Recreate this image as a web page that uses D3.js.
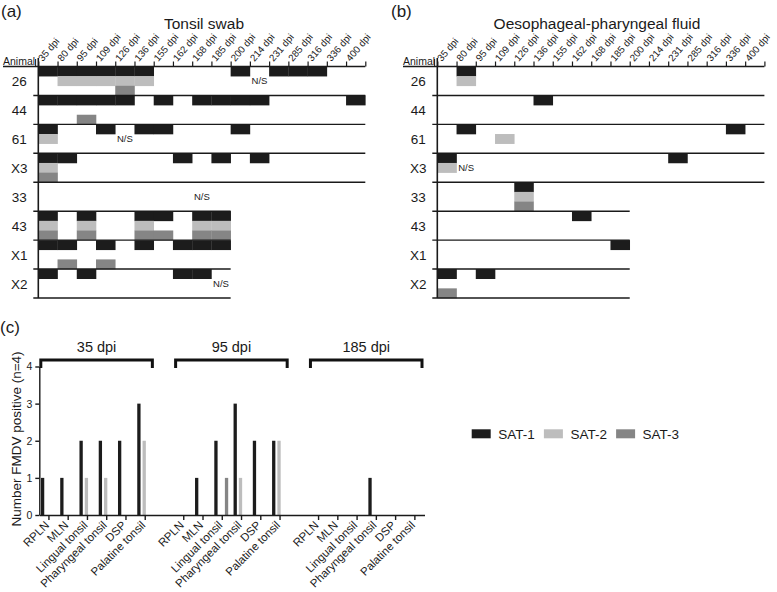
<!DOCTYPE html>
<html>
<head>
<meta charset="utf-8">
<script src="https://cdn.jsdelivr.net/npm/d3@7"></script>
<style>
body{margin:0;background:#fff;}
svg text{font-family:"Liberation Sans",Arial,sans-serif;fill:#1a1a1a;}
</style>
</head>
<body>
<script>
// sampling days and animals (panels a, b)
var dpiCols = [35,80,95,109,126,136,155,162,168,185,200,214,231,285,316,336,400];
var animals = ["26","44","61","X3","33","43","X1","X2"];
var lastDpi = [400,400,400,400,185,185,185,185];
var serotypes = ["SAT-1","SAT-2","SAT-3"];
var satColors = ["#1c1c1c","#bdbdbd","#858585"];

// (a) tonsil swab: positive days per animal
var swabSAT1 = [[35,80,95,109,126,136,200,231,285,316],[35,80,95,109,126,155,168,185,200,214,400],[35,109,136,155,200],[35,80,162,185,214],[],[35,95,136,155,168,185],[35,80,109,136,162,168,185],[35,95,162,168]];
var swabSAT2 = [[80,95,109,126,136],[],[35],[35],[],[35,95,136,168,185],[],[]];
var swabSAT3 = [[126],[95],[],[35],[],[35,95,136,155,168,185],[80,109],[]];
var swabNS = [["26",214],["61",126],["33",168],["X2",185]];

// (b) oesophageal-pharyngeal fluid
var fluidSAT1 = [[80],[136],[80,336],[35,231],[126],[162],[185],[35,95]];
var fluidSAT2 = [[80],[],[109],[35],[126],[],[],[]];
var fluidSAT3 = [[],[],[],[],[126],[],[],[35]];
var fluidNS = [["X3",80]];

// (c) tissues at necropsy
var tissues = ["RPLN","MLN","Lingual tonsil","Pharyngeal tonsil","DSP","Palatine tonsil"];
var timepoints = ["35 dpi","95 dpi","185 dpi"];
var tissueSAT1 = [[1,1,2,2,2,3],[0,1,2,3,2,2],[0,0,0,1,0,0]];
var tissueSAT2 = [[0,0,1,1,0,2],[0,0,0,1,0,2],[0,0,0,0,0,0]];
var tissueSAT3 = [[0,0,0,0,0,0],[0,0,1,0,0,0],[0,0,0,0,0,0]];
var yTicks = [0,1,2,3,4];

var svg = d3.select('body').append('svg').attr('width',777).attr('height',592);

function drawGrid(letter, letterX, title, titleX, animalX, x0, x1, sat1, sat2, sat3, ns){
  var g = svg.append('g');
  var x = d3.scaleBand().domain(dpiCols).range([x0,x1]);
  var xl = d3.scaleLinear().domain([0,dpiCols.length]).range([x0,x1]);
  var y = d3.scaleBand().domain(animals).range([66.5,298]);
  var ys = d3.scaleBand().domain(serotypes).range([0,y.bandwidth()]);

  g.append('text').attr('x',letterX).attr('y',17).attr('font-size','17px').text(letter);
  g.append('text').attr('x',titleX).attr('y',29).attr('font-size','15.5px').attr('text-anchor','middle').text(title);
  g.append('text').attr('x',animalX).attr('y',65).attr('font-size','10.5px').text('Animal');

  var ax = g.append('g').attr('transform','translate(0,66.5)')
    .call(d3.axisTop(xl).ticks(dpiCols.length).tickFormat('').tickSize(5).tickSizeOuter(0));
  ax.select('.domain').remove();
  ax.selectAll('line').attr('stroke','#1a1a1a').attr('stroke-width',1.2);

  g.selectAll('.col').data(dpiCols).enter().append('text')
    .attr('transform',function(d){return 'translate('+(x(d)+4.5)+',62) rotate(-50)';})
    .attr('font-size','9.8px').text(function(d){return d+' dpi';});

  [sat1,sat2,sat3].forEach(function(series,si){
    animals.forEach(function(a,ai){
      g.selectAll(null).data(series[ai]).enter().append('rect')
        .attr('x',function(d){return x(d);})
        .attr('y',y(a)+ys(serotypes[si]))
        .attr('width',x.bandwidth()+0.3)
        .attr('height',ys.bandwidth()+0.3)
        .attr('fill',satColors[si]);
    });
  });

  g.selectAll('.ns').data(ns).enter().append('text')
    .attr('x',function(d){return x(d[1])+x.bandwidth()/2;})
    .attr('y',function(d){return y(d[0])+ys('SAT-2')+ys.bandwidth()/2+3.5;})
    .attr('font-size','9.5px').attr('text-anchor','middle').text('N/S');

  g.selectAll('.rl').data(animals).enter().append('text')
    .attr('x',x0-19).attr('y',function(d){return y(d)+y.bandwidth()/2+5;})
    .attr('font-size','13.5px').attr('text-anchor','middle').text(function(d){return d;});

  // header line and row separators
  g.append('line').attr('x1',animalX).attr('x2',x1).attr('y1',66.5).attr('y2',66.5)
    .attr('stroke','#1a1a1a').attr('stroke-width',1.4);
  g.selectAll('.sep').data(animals).enter().append('line')
    .attr('x1',x0-5).attr('x2',function(d,i){return x(lastDpi[i])+x.bandwidth();})
    .attr('y1',function(d){return y(d)+y.bandwidth();})
    .attr('y2',function(d){return y(d)+y.bandwidth();})
    .attr('stroke','#1a1a1a').attr('stroke-width',1.4);
  g.append('line').attr('x1',x0).attr('x2',x0).attr('y1',58).attr('y2',298)
    .attr('stroke','#1a1a1a').attr('stroke-width',1.6);
  g.append('line').attr('x1',x0-2.7).attr('x2',x0-2.7).attr('y1',59).attr('y2',66.5)
    .attr('stroke','#1a1a1a').attr('stroke-width',1);
}

drawGrid('(a)',1,'Tonsil swab',204,3,38.3,365.3,swabSAT1,swabSAT2,swabSAT3,swabNS);
drawGrid('(b)',391,'Oesophageal-pharyngeal fluid',597,403,437.3,764.4,fluidSAT1,fluidSAT2,fluidSAT3,fluidNS);

// panel (c)
var c = svg.append('g');
c.append('text').attr('x',0).attr('y',333).attr('font-size','17px').text('(c)');

var slots = [];
timepoints.forEach(function(tp,gi){
  tissues.forEach(function(t){slots.push(tp+'|'+t);});
  if(gi<timepoints.length-1) slots.push('gap'+gi);
});
var xc = d3.scaleBand().domain(slots).range([39.3,424.5]);
var xi = d3.scaleBand().domain(serotypes).range([1.65,15.55]).paddingInner(0.377);
var yc = d3.scaleLinear().domain([0,4]).range([515,366.5]);

var bars = [];
[tissueSAT1,tissueSAT2,tissueSAT3].forEach(function(series,si){
  timepoints.forEach(function(tp,gi){
    tissues.forEach(function(t,ti){
      if(series[gi][ti]>0) bars.push({key:tp+'|'+t, sat:serotypes[si], v:series[gi][ti], col:satColors[si]});
    });
  });
});
c.selectAll('.bar').data(bars).enter().append('rect')
  .attr('x',function(d){return xc(d.key)+xi(d.sat);})
  .attr('y',function(d){return yc(d.v);})
  .attr('width',xi.bandwidth())
  .attr('height',function(d){return yc(0)-yc(d.v);})
  .attr('fill',function(d){return d.col;});

var xa = c.append('g').attr('transform','translate(0,515)')
  .call(d3.axisBottom(xc).tickValues(slots.filter(function(s){return s.indexOf('|')>0;}))
    .tickFormat(function(s){return s.split('|')[1];}).tickSize(5).tickSizeOuter(0));
xa.selectAll('text').attr('x',0).attr('y',0).attr('dy','0.35em')
  .attr('transform','translate(-2,8) rotate(-45)')
  .style('text-anchor','end').attr('font-size','11.5px').attr('font-family',null);
var ya = c.append('g').attr('transform','translate(39.3,0)')
  .call(d3.axisLeft(yc).tickValues(yTicks).tickFormat(d3.format('d')).tickSize(4).tickSizeOuter(0));
ya.selectAll('text').attr('font-size','10.5px').attr('font-family',null);
[xa,ya].forEach(function(a){
  a.selectAll('path,line').attr('stroke','#1a1a1a').attr('stroke-width',1.4);
});

c.append('text').attr('transform','translate(21,439) rotate(-90)')
  .attr('text-anchor','middle').attr('font-size','13.5px').text('Number FMDV positive (n=4)');

// brackets over each timepoint
timepoints.forEach(function(tp){
  var bx0 = xc(tp+'|'+tissues[0])+1.5;
  var bx1 = xc(tp+'|'+tissues[tissues.length-1])+xc.bandwidth()-2.5;
  c.append('path').attr('d','M'+bx0+',368V360H'+bx1+'V368')
    .attr('fill','none').attr('stroke','#111').attr('stroke-width',3);
  c.append('text').attr('x',(bx0+bx1)/2).attr('y',352).attr('text-anchor','middle')
    .attr('font-size','14.5px').text(tp);
});

// legend
var lg = c.selectAll('.lg').data(serotypes).enter().append('g')
  .attr('transform',function(d,i){return 'translate('+(471.7+i*72.2)+',429.3)';});
lg.append('rect').attr('width',19).attr('height',9).attr('fill',function(d,i){return satColors[i];});
lg.append('text').attr('x',26.5).attr('y',9.5).attr('font-size','13.5px').text(function(d){return d;});
</script>
</body>
</html>
